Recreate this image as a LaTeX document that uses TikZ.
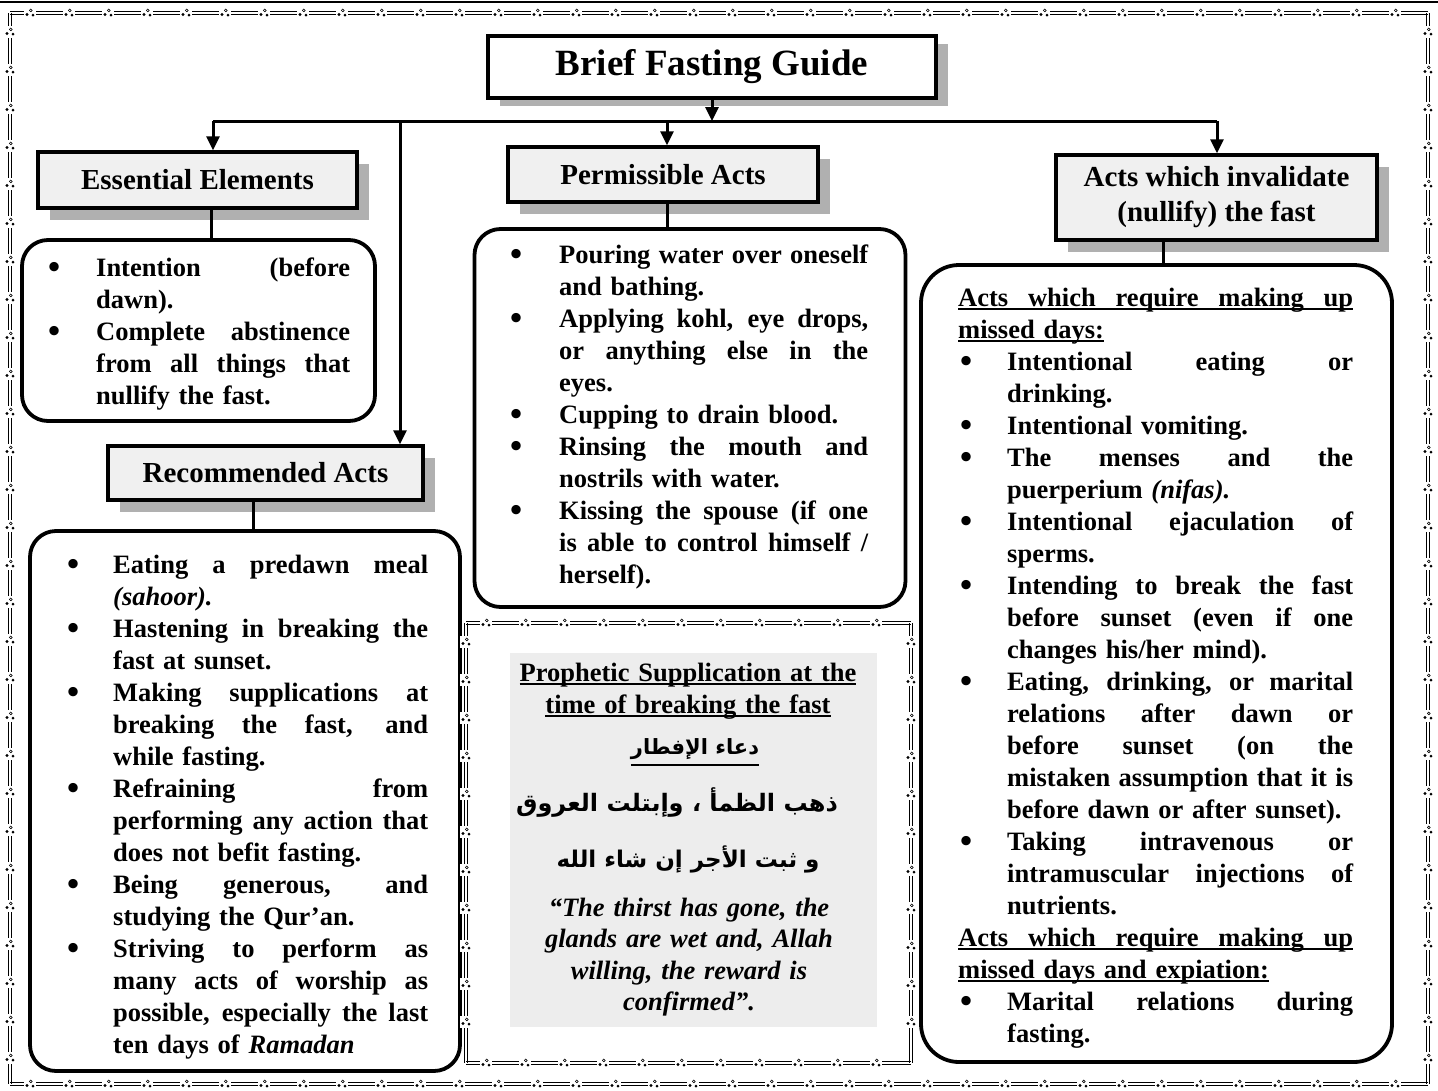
\documentclass[tikz,border=0pt]{standalone}
\usepackage{fontspec}
\setmainfont{Liberation Serif}
\newfontfamily\arabicfont[Script=Arabic]{DejaVu Sans}
\TeXXeTstate=1
\usetikzlibrary{arrows.meta,shadows}
\newlength\bind
\newlength\boff
\newlength\iw
\newcommand\stbox[2]{{\spaceskip=0.25em plus 1fil minus 0.1em\relax\makebox[#1][s]{#2}}}
\newcommand\jl[1]{\stbox{\iw}{#1}\break}
\newcommand\bul{\raisebox{-0.09em}{\scalebox{1.3}{\textbullet}}}
\newcommand\bitem[1]{\noindent\hangindent=\bind\hangafter=1\makebox[\bind][l]{\hspace{\boff}\bul}#1\par}
\newcommand\ul[1]{\leavevmode\setbox0\hbox{#1}\rlap{\rule[-4pt]{\wd0}{1.8pt}}\box0}
\newcommand\ula[1]{\leavevmode\setbox0\hbox{#1}\rlap{\rule[-12pt]{\wd0}{1.8pt}}\box0}
\newcommand\clus[2]{%
  \fill[white] (#1-6,#2-6) rectangle (#1+6,#2+6);
  \fill (#1-3,#2+1.5) circle (1.7);
  \draw[line width=0.6pt] (#1+0.8,#2-2.6) circle (1.4);
  \fill (#1+3,#2+2.2) circle (1.5);}
\newcommand\hdeco[3]{%
  \draw[line width=0.8pt] (#1,#3-1.5) -- (#2,#3-1.5) (#1,#3+1.5) -- (#2,#3+1.5);
  \pgfmathtruncatemacro\nn{(#2-#1)/39}
  \foreach \i in {1,...,\nn}{\clus{#1+\i*39-19}{#3}}}
\newcommand\vdeco[3]{%
  \draw[line width=0.8pt] (#1-1.5,#2) -- (#1-1.5,#3) (#1+1.5,#2) -- (#1+1.5,#3);
  \pgfmathtruncatemacro\nn{(#3-#2)/38}
  \foreach \i in {1,...,\nn}{\clus{#1}{#2+\i*38-19}}}
\begin{document}
\begin{tikzpicture}[x=1pt,y=-1pt,
  hdr/.style={draw, line width=3.5pt, fill=gray!12, inner sep=0, align=center,
    font=\bfseries\fontsize{29}{35}\selectfont,
    drop shadow={shadow xshift=12pt, shadow yshift=-12pt, fill=gray!62, opacity=1}},
  cbox/.style={draw, line width=3.8pt, rounded corners=26pt, inner sep=0, fill=white},
  txt/.style={inner sep=0, anchor=base west, font=\bfseries\fontsize{26.5}{32}\selectfont},
  ctxt/.style={inner sep=0, anchor=base, align=center, text width=380pt},
  conn/.style={line width=3pt},
  arr/.style={line width=3pt, -{Triangle[length=14pt,width=13pt]}}]
\useasboundingbox (0,0) rectangle (1438,1090);
\fill[white] (0,0) rectangle (1438,1090);
% outer decorative frame
\draw[line width=2.5pt] (0,2) -- (1438,2);
\hdeco{10}{1428}{13}
\hdeco{10}{1428}{1084}
\vdeco{10}{13}{1084}
\vdeco{1428}{13}{1084}
% title
\node[draw, line width=4pt, fill=white, inner sep=0, minimum width=448pt, minimum height=62pt,
  font=\bfseries\fontsize{37}{44}\selectfont,
  drop shadow={shadow xshift=12pt, shadow yshift=-8pt, fill=gray!62, opacity=1}]
  (T) at (712,67) {Brief Fasting Guide};
% headers
\node[hdr, minimum width=319pt, minimum height=56pt] (essH) at (197.5,180) {Essential Elements};
\node[hdr, minimum width=310pt, minimum height=55pt] (permH) at (663,174.5) {Permissible Acts};
\node[hdr, minimum width=321pt, minimum height=85pt] (invH) at (1216.5,197.5) {Acts which invalidate\\(nullify) the fast};
\node[hdr, minimum width=315pt, minimum height=54pt] (recH) at (265.5,473) {Recommended Acts};
% connectors
\coordinate (bar) at (0,121);
\coordinate (jE) at (213,0);
\coordinate (jR) at (400,0);
\coordinate (jP) at (667,0);
\coordinate (jI) at (1217,0);
\coordinate (kE) at (211,0);
\coordinate (kR) at (253,0);
\coordinate (kP) at (667,0);
\coordinate (kI) at (1163,0);
\draw[conn] (jE |- bar) -- (jI |- bar);
\draw[arr] (T.south) -- (T.south |- bar);
\draw[arr] (jE |- bar) -- (jE |- essH.north);
\draw[arr] (jR |- bar) -- (jR |- recH.north);
\draw[arr] (jP |- bar) -- (jP |- permH.north);
\draw[arr] (jI |- bar) -- (jI |- invH.north);
% content boxes
\node[cbox, minimum width=353pt, minimum height=181pt] (essC) at (198.5,330.5) {};
\node[cbox, minimum width=431pt, minimum height=378pt] (permC) at (690,418) {};
\node[cbox, minimum width=430pt, minimum height=540pt] (recC) at (245,801) {};
\node[cbox, rounded corners=38pt, minimum width=471pt, minimum height=797pt] (invC) at (1156.5,663.5) {};
\draw[conn] (kE |- essH.south) -- (kE |- essC.north);
\draw[conn] (kR |- recH.south) -- (kR |- recC.north);
\draw[conn] (kP |- permH.south) -- (kP |- permC.north);
\draw[conn] (kI |- invH.south) -- (kI |- invC.north);
% supplication frame
\hdeco{466}{911}{623}
\hdeco{466}{911}{1063}
\vdeco{466}{623}{1063}
\vdeco{911}{623}{1063}
\fill[gray!14] (510,653) rectangle (877,1027);
% texts
\node[txt, text width=302pt] (essT) at (48,276) {%
  \setlength\bind{48pt}\setlength\boff{0pt}\setlength\iw{254pt}%
  \bitem{\jl{Intention (before}dawn).}
  \bitem{\jl{Complete abstinence}\jl{from all things that}nullify the fast.}};
\node[txt, text width=358pt] (permT) at (510,263) {%
  \setlength\bind{49pt}\setlength\boff{0pt}\setlength\iw{309pt}%
  \bitem{\jl{Pouring water over oneself}and bathing.}
  \bitem{\jl{Applying kohl, eye drops,}\jl{or anything else in the}eyes.}
  \bitem{Cupping to drain blood.}
  \bitem{\jl{Rinsing the mouth and}nostrils with water.}
  \bitem{\jl{Kissing the spouse (if one}\jl{is able to control himself /}herself).}};
\node[txt, text width=361pt] (recT) at (67,573) {%
  \setlength\bind{46pt}\setlength\boff{0pt}\setlength\iw{315pt}%
  \bitem{\jl{Eating a predawn meal}\textit{(sahoor).}}
  \bitem{\jl{Hastening in breaking the}fast at sunset.}
  \bitem{\jl{Making supplications at}\jl{breaking the fast, and}while fasting.}
  \bitem{\jl{Refraining from}\jl{performing any action that}does not befit fasting.}
  \bitem{\jl{Being generous, and}studying the Qur’an.}
  \bitem{\jl{Striving to perform as}\jl{many acts of worship as}\jl{possible, especially the last}ten days of \textit{Ramadan}}};
\node[txt, text width=395pt] (invT) at (958,306) {%
  \setlength\bind{49pt}\setlength\boff{2pt}\setlength\iw{346pt}%
  \noindent\ul{\stbox{395pt}{Acts which require making up}}\par
  \noindent\ul{missed days:}\par
  \bitem{\jl{Intentional eating or}drinking.}
  \bitem{Intentional vomiting.}
  \bitem{\jl{The menses and the}puerperium \textit{(nifas).}}
  \bitem{\jl{Intentional ejaculation of}sperms.}
  \bitem{\jl{Intending to break the fast}\jl{before sunset (even if one}changes his/her mind).}
  \bitem{\jl{Eating, drinking, or marital}\jl{relations after dawn or}\jl{before sunset (on the}\jl{mistaken assumption that it is}before dawn or after sunset).}
  \bitem{\jl{Taking intravenous or}\jl{intramuscular injections of}nutrients.}
  \noindent\ul{\stbox{395pt}{Acts which require making up}}\par
  \noindent\ul{missed days and expiation:}\par
  \bitem{\jl{Marital relations during}fasting.}};
% supplication texts
\node[ctxt, font=\bfseries\fontsize{26.5}{32}\selectfont] (supH) at (688,681)
  {\ul{Prophetic Supplication at the}\\\ul{time of breaking the fast}};
\node[inner sep=0, anchor=base, font=\arabicfont\bfseries\fontsize{21}{32}\selectfont] (ar1) at (695,754)
  {\ula{\beginR دعاء الإفطار\endR}};
\node[inner sep=0, anchor=base, font=\arabicfont\bfseries\fontsize{24}{32}\selectfont] (ar2) at (677,811)
  {\beginR ذهب الظمأ ، وإبتلت العروق\endR};
\node[inner sep=0, anchor=base, font=\arabicfont\bfseries\fontsize{23}{32}\selectfont] (ar3) at (688,867)
  {\beginR و ثبت الأجر إن شاء الله\endR};
\node[ctxt, font=\bfseries\itshape\fontsize{26.5}{31.5}\selectfont] (quote) at (689,916)
  {“The thirst has gone, the\\glands are wet and, Allah\\willing, the reward is\\confirmed”.};
\end{tikzpicture}
\end{document}
